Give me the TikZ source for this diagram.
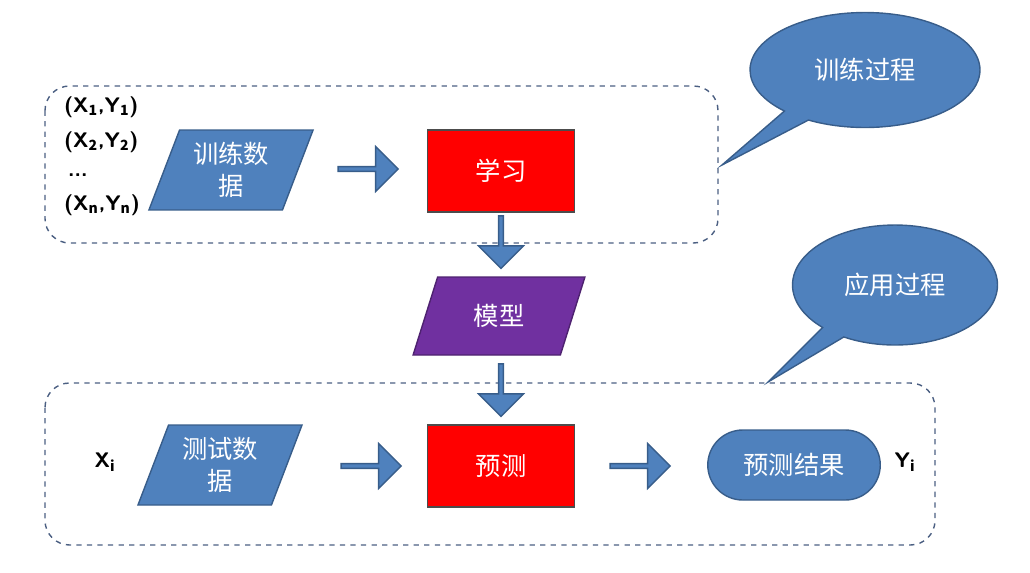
\documentclass[tikz,border=0pt]{standalone}
\usepackage{fontspec}
\setmainfont{Noto Sans CJK SC}
\usetikzlibrary{shapes.geometric,shapes.arrows,shapes.callouts,positioning}
\definecolor{boxblue}{RGB}{79,129,189}
\definecolor{boxborder}{RGB}{56,93,138}
\definecolor{modelpurple}{RGB}{112,48,160}
\definecolor{learnred}{RGB}{255,0,0}
\definecolor{dashblue}{RGB}{75,95,130}

\begin{document}
\begin{tikzpicture}[
    x=0.02cm, y=-0.02cm,
    group/.style={draw=dashblue, dashed, thick, rounded corners=14pt},
    data/.style={trapezium, trapezium left angle=68, trapezium right angle=112, trapezium stretches=true,
        minimum width=3.3cm, minimum height=1.6cm, fill=boxblue, draw=boxborder, thick,
        text=white, align=center, font=\Large, inner sep=1pt},
    proc/.style={rectangle, minimum width=2.95cm, minimum height=1.64cm, fill=learnred, draw=black!70,
        thick, text=white, font=\Large},
    model/.style={data, fill=modelpurple, draw=modelpurple!70!black, minimum width=3.45cm, minimum height=1.56cm},
    result/.style={rectangle, rounded corners=0.7cm, minimum width=3.45cm, minimum height=1.4cm,
        fill=boxblue, draw=boxborder, thick, text=white, font=\Large},
    rarrow/.style={single arrow, fill=boxblue, draw=boxborder, thick, minimum height=1.2cm,
        minimum width=0.9cm, single arrow head extend=0.12cm, inner sep=0pt},
    darrow/.style={rarrow, shape border rotate=270, minimum height=1.05cm},
    bubble/.style={ellipse callout, fill=boxblue, draw=boxborder, thick, text=white, font=\Large},
    pair/.style={font=\bfseries\large\sffamily, anchor=west}
]
\useasboundingbox (0,0) rectangle (1030,572);

% Groups
\draw[group] (45,86) rectangle (718,243);
\draw[group] (45,383) rectangle (935,545);

% Callouts
\node[bubble, minimum width=4.6cm, minimum height=2.3cm, callout absolute pointer={(722,165)}] (train) at (865,70) {训练过程};
\node[bubble, minimum width=4.1cm, minimum height=2.4cm, callout absolute pointer={(768,382)}] (apply) at (895,285) {应用过程};

% Training samples
\node[pair] (s1) at (58,107) {(X$_\mathbf{1}$,Y$_\mathbf{1}$)};
\node[pair] (s2) at (58,142) {(X$_\mathbf{2}$,Y$_\mathbf{2}$)};
\node[pair] (s3) at (62,175) {...};
\node[pair] (sn) at (58,205) {(X$_\mathbf{n}$,Y$_\mathbf{n}$)};

% Training row
\node[data] (traindata) at (231,170) {训练数\\据};
\node[rarrow] (a1) at (367,169) {};
\node[proc] (learn) at (501,171) {学习};
\node[darrow] (a2) at (501,241) {};
\node[model] (mdl) at (499,316) {模型};
\node[darrow] (a3) at (501,389) {};

% Application row
\node[font=\bfseries\large\sffamily] (xi) at (105,462) {X$_\mathbf{i}$};
\node[data] (testdata) at (220,465) {测试数\\据};
\node[rarrow] (a4) at (370,466) {};
\node[proc] (pred) at (501,466) {预测};
\node[rarrow] (a5) at (639,466) {};
\node[result] (res) at (794,465) {预测结果};
\node[font=\bfseries\large\sffamily] (yi) at (905,462) {Y$_\mathbf{i}$};

\end{tikzpicture}
\end{document}
